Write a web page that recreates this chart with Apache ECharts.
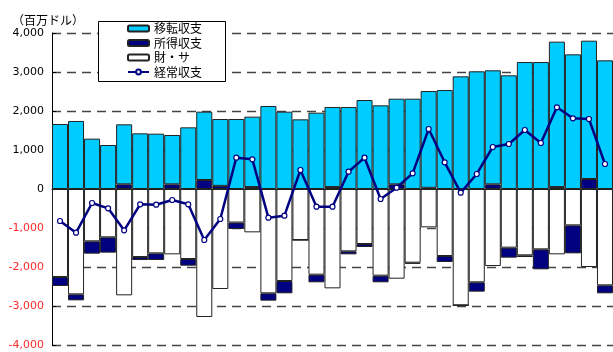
<!DOCTYPE html>
<html><head><meta charset="utf-8">
<script src="https://cdn.jsdelivr.net/npm/echarts@6/dist/echarts.min.js"></script>
<style>html,body{margin:0;padding:0;background:#fff}#c{width:613px;height:352px}</style>
</head><body><div id="c"></div>
<script>
const categories = ['1','2','3','4','5','6','7','8','9','10','11','12','13','14','15','16','17','18','19','20','21','22','23','24','25','26','27','28','29','30','31','32','33','34','35'];
const transfer = [1667,1744,1291,1128,1538,1427,1419,1265,1581,1752,1715,1795,1805,2128,1983,1786,1957,2053,2103,2282,2145,2196,2316,2483,2538,2889,3017,2923,2915,3256,3256,3728,3453,3547,3299];
const income = [-231,-154,-316,-393,120,-77,-171,120,-171,231,80,-165,50,-188,-316,0,-196,50,-77,-77,-171,120,-30,30,-154,0,-239,120,-257,-43,-513,50,-718,256,-205];
const goods = [-2256,-2701,-1342,-1239,-2726,-1744,-1650,-1675,-1795,-3282,-2564,-860,-1111,-2675,-2359,-1308,-2197,-2547,-1598,-1410,-2222,-2300,-1889,-983,-1718,-2983,-2393,-1974,-1504,-1701,-1547,-1675,-932,-2000,-2470];
const current = [-820,-1120,-359,-496,-1060,-393,-402,-282,-393,-1308,-769,803,761,-735,-684,487,-453,-453,444,803,-256,34,402,1538,684,-94,385,1077,1154,1513,1179,2094,1812,1795,641];
const yTicks = {min:-4000, max:4000, interval:1000};
const names = ['移転収支','所得収支','財・サ','経常収支'];

const chart = echarts.init(document.getElementById('c'));
const border = {borderColor:'#222', borderWidth:1};
chart.setOption({
  animation:false,
  grid:{left:52, right:0, top:33, bottom:7},
  graphic:[
    {type:'text', left:12, top:14, style:{text:'（百万ドル）', font:'12px "Noto Sans CJK JP"', fill:'#000'}},
    {type:'rect', left:98, top:21, z:3, shape:{width:127, height:60}, style:{fill:'#fff', stroke:'#000', lineWidth:1}}
  ],
  legend:{
    data:names, orient:'vertical', left:127, top:21.5, z:4,
    padding:0, itemGap:0.5, itemWidth:21, itemHeight:6,
    textStyle:{fontFamily:'"Noto Sans CJK JP"', fontSize:12, color:'#000', lineHeight:14}
  },
  xAxis:{type:'category', data:categories, boundaryGap:true,
    axisLine:{lineStyle:{color:'#000'}}, axisTick:{show:false}, axisLabel:{show:false}},
  yAxis:{type:'value', min:yTicks.min, max:yTicks.max, interval:yTicks.interval,
    axisLine:{show:true, lineStyle:{color:'#000'}},
    axisTick:{show:true, inside:true, length:4, lineStyle:{color:'#000'}},
    axisLabel:{margin:8, fontFamily:'DejaVu Sans', fontSize:11,
      formatter:v=>v.toLocaleString('en-US'),
      color:v=>Number(v)<0?'#ff2a2a':'#000'},
    splitLine:{show:true, lineStyle:{color:'#444', type:[9,6], width:1.3}}},
  series:[
    {name:'財・サ', type:'bar', stack:'a', data:goods, barCategoryGap:'0%', itemStyle:Object.assign({color:'#fff'},border)},
    {name:'所得収支', type:'bar', stack:'a', data:income, itemStyle:Object.assign({color:'#000080'},border)},
    {name:'移転収支', type:'bar', stack:'a', data:transfer, itemStyle:Object.assign({color:'#00ccff'},border)},
    {name:'経常収支', type:'line', data:current, symbol:'circle', symbolSize:5,
      lineStyle:{color:'#000080', width:2.5},
      itemStyle:{color:'#fff', borderColor:'#000080', borderWidth:1.2}, z:5}
  ]
});
</script></body></html>
